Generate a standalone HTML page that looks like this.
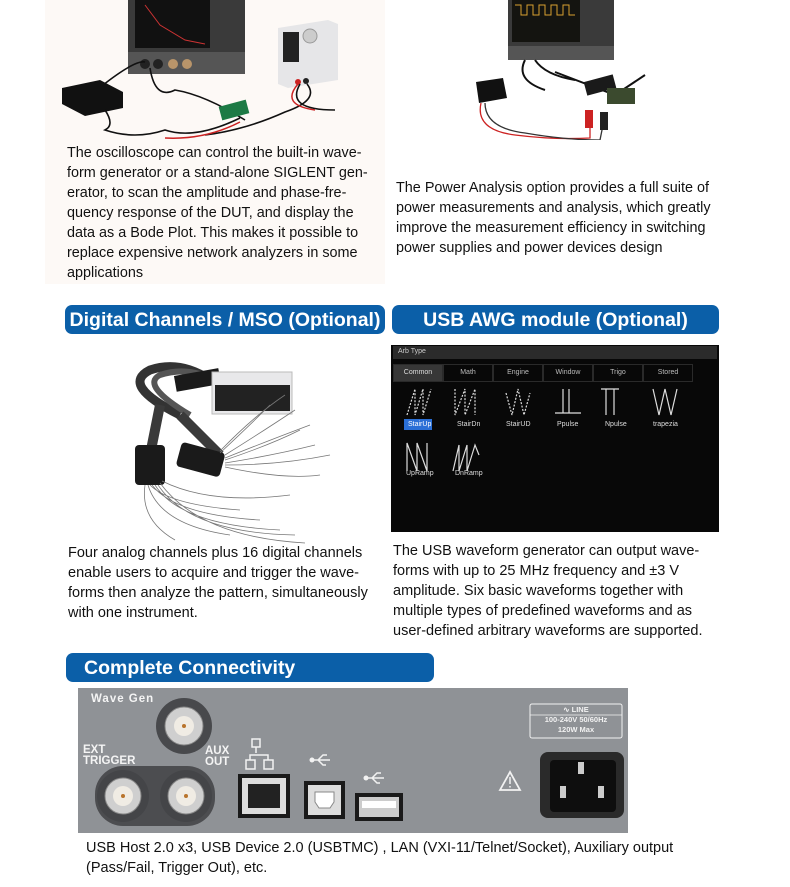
<!DOCTYPE html>
<html><head><meta charset="utf-8"><style>
*{margin:0;padding:0;box-sizing:border-box}
body{width:790px;height:887px;background:#fff;position:relative;overflow:hidden;font-family:"Liberation Sans",Arial,sans-serif;color:#111}
.a{position:absolute}
.l{position:absolute;white-space:nowrap;font-size:14.5px;line-height:20px}
.c{transform:scaleX(.96);transform-origin:0 0;font-size:15px}
.h{position:absolute;background:#0b5fa8;color:#fff;font-weight:bold;border-radius:7px;white-space:nowrap;font-size:19.5px;line-height:30px}
.tab{position:absolute;top:364px;height:18px;border:1px solid #2a2a2a;color:#bbb;font-size:7px;line-height:16px;text-align:center}
.lbl{position:absolute;font-size:7px;color:#ddd}
.pl{position:absolute;color:#f4f4f4;font-weight:bold;font-size:11.5px;line-height:11px}
</style></head><body>

<div class="a" style="left:45px;top:0;width:340px;height:284px;background:#fdf9f6"></div>
<svg class="a" style="left:45px;top:0" width="700" height="140">
 <rect x="83" y="0" width="117" height="74" fill="#3a3a3a"/>
 <rect x="90" y="0" width="75" height="48" fill="#111"/>
 <polyline points="100,5 115,25 140,40 160,44" stroke="#c33" fill="none"/>
 <rect x="83" y="52" width="117" height="22" fill="#555"/>
 <circle cx="100" cy="64" r="5" fill="#222"/><circle cx="113" cy="64" r="5" fill="#222"/>
 <circle cx="128" cy="64" r="5" fill="#b9956a"/><circle cx="142" cy="64" r="5" fill="#b9956a"/>
 <path d="M233 28 L283 20 L293 24 L293 80 L243 88 L233 84Z" fill="#e6e6e8"/>
 <rect x="238" y="32" width="16" height="30" fill="#222"/>
 <circle cx="265" cy="36" r="7" fill="#ccc" stroke="#999"/>
 <circle cx="253" cy="82" r="3" fill="#c22"/><circle cx="261" cy="81" r="3" fill="#222"/>
 <path d="M17 88 L55 80 L78 92 L78 108 L40 116 L17 104Z" fill="#111"/>
 <path d="M58 85 Q90 60 100 62 M105 68 Q110 100 130 90 Q160 95 200 120 M60 110 Q70 125 60 130 Q90 140 120 130 Q150 140 195 118 M255 84 Q240 110 290 110 M262 84 Q275 100 240 112 Q200 130 160 135" stroke="#111" stroke-width="1.6" fill="none"/>
 <path d="M253 84 Q235 105 270 110 M195 122 Q160 140 120 138" stroke="#c22" stroke-width="1.5" fill="none"/>
 <rect x="175" y="103" width="28" height="14" fill="#1d7a45" transform="rotate(-15 189 110)"/>
 <rect x="463" y="0" width="106" height="60" fill="#3a3a3a"/>
 <rect x="467" y="0" width="68" height="42" fill="#141410"/>
 <path d="M470 5 h6 v10 h6 v-10 h6 v10 h6 v-10 h6 v10 h6 v-10 h6 v10 h6 v-10 h6 v10 h6" stroke="#d8a030" fill="none"/>
 <rect x="463" y="46" width="106" height="14" fill="#555"/>
 <path d="M431 82 L458 78 L462 98 L434 103Z" fill="#111"/>
 <path d="M480 60 Q470 80 500 90 M490 60 Q500 75 530 80 M510 72 L570 95 L600 75" stroke="#111" stroke-width="2" fill="none"/>
 <rect x="540" y="78" width="30" height="14" fill="#1a1a1a" transform="rotate(-15 555 85)"/>
 <rect x="562" y="88" width="28" height="16" fill="#3b4a2e"/>
 <path d="M436 103 Q430 130 470 135 Q510 140 545 138 L545 115" stroke="#c22" stroke-width="1.3" fill="none"/>
 <path d="M440 103 Q440 128 480 133 Q520 140 555 140 L560 115" stroke="#333" stroke-width="1.3" fill="none"/>
 <rect x="540" y="110" width="8" height="18" fill="#c22"/><rect x="555" y="112" width="8" height="18" fill="#222"/>
</svg>

<div class="l c" style="left:67px;top:143px">The oscilloscope can control the built-in wave-</div>
<div class="l c" style="left:67px;top:163px">form generator or a stand-alone SIGLENT gen-</div>
<div class="l c" style="left:67px;top:183px">erator, to scan the amplitude and phase-fre-</div>
<div class="l c" style="left:67px;top:203px">quency response of the DUT, and display the</div>
<div class="l c" style="left:67px;top:223px">data as a Bode Plot. This makes it possible to</div>
<div class="l c" style="left:67px;top:243px">replace expensive network analyzers in some</div>
<div class="l c" style="left:67px;top:263px">applications</div>

<div class="l c" style="left:396px;top:178px">The Power Analysis option provides a full suite of</div>
<div class="l c" style="left:396px;top:198px">power measurements and analysis, which greatly</div>
<div class="l c" style="left:396px;top:218px">improve the measurement efficiency in switching</div>
<div class="l c" style="left:396px;top:238px">power supplies and power devices design</div>

<div class="h" style="left:65px;top:305px;width:320px;height:29px;text-align:center">Digital Channels / MSO (Optional)</div>
<div class="h" style="left:392px;top:305px;width:327px;height:29px;text-align:center">USB AWG module (Optional)</div>

<svg class="a" style="left:100px;top:355px" width="240" height="190">
 <path d="M80 60 Q20 30 50 15 Q80 5 110 25" stroke="#333" stroke-width="9" fill="none"/>
 <path d="M90 60 Q40 30 60 20 Q90 10 120 28" stroke="#555" stroke-width="6" fill="none"/>
 <rect x="75" y="17" width="45" height="16" fill="#1a1a1a" transform="rotate(-10 97 25)"/>
 <path d="M80 60 L120 100 M60 50 L50 100" stroke="#3a3a3a" stroke-width="10" fill="none"/>
 <rect x="35" y="90" width="30" height="40" rx="4" fill="#1a1a1a"/>
 <rect x="78" y="92" width="45" height="25" rx="4" fill="#1a1a1a" transform="rotate(15 100 105)"/>
 <rect x="112" y="17" width="80" height="42" fill="#e8e8ea" stroke="#bbb"/>
 <rect x="115" y="30" width="75" height="26" fill="#222"/>
 <g stroke="#777" stroke-width=".8" fill="none">
 <path d="M50 130 Q70 150 140 155 M52 130 Q75 160 160 165 M55 130 Q80 170 180 175 M58 130 Q90 178 195 180 M60 128 Q100 182 205 188 M45 130 Q40 165 75 185 M48 130 Q60 170 130 180 M62 126 Q110 150 190 140"/>
 <path d="M125 105 Q170 90 200 75 M125 108 Q175 100 215 90 M125 100 Q165 75 195 55 M125 103 Q170 85 210 70 M125 110 Q180 110 230 100 M125 112 Q185 125 220 120 M120 98 Q150 70 170 50 M120 96 Q155 60 185 40"/>
 </g>
</svg>

<div class="l" style="left:68px;top:543px">Four analog channels plus 16 digital channels</div>
<div class="l" style="left:68px;top:563px">enable users to acquire and trigger the wave-</div>
<div class="l" style="left:68px;top:583px">forms then analyze the pattern, simultaneously</div>
<div class="l" style="left:68px;top:603px">with one instrument.</div>

<div class="a" style="left:391px;top:345px;width:328px;height:187px;background:#080808"></div>
<div class="a" style="left:393px;top:346px;width:324px;height:13px;background:#2b2b2b"></div>
<div class="lbl" style="left:398px;top:348px;color:#ccc">Arb Type</div>
<div class="tab" style="left:393px;width:50px;background:#373737;color:#ddd">Common</div>
<div class="tab" style="left:443px;width:50px">Math</div>
<div class="tab" style="left:493px;width:50px">Engine</div>
<div class="tab" style="left:543px;width:50px">Window</div>
<div class="tab" style="left:593px;width:50px">Trigo</div>
<div class="tab" style="left:643px;width:50px">Stored</div>
<svg class="a" style="left:391px;top:385px" width="328" height="100" stroke="#ddd" fill="none" stroke-width="1.2">
 <path d="M16 30 L24 4 L24 30 L32 4 L32 30 L40 4" stroke-dasharray="2 1.5"/>
 <path d="M64 4 L64 30 L74 4 L74 30 L84 4 L84 30" stroke-dasharray="2 1.5"/>
 <path d="M115 8 L121 30 L127 4 L133 30 L139 8" stroke-dasharray="2 1.5"/>
 <path d="M164 28 L172 28 L172 4 M178 4 L178 28 L190 28 M172 28 L178 28"/>
 <path d="M210 4 L228 4 M215 4 L215 30 M223 4 L223 30"/>
 <path d="M262 4 L268 30 L274 4 L280 30 L286 4"/>
 <path d="M16 98 L16 70 L26 98 L26 70 L36 98 L36 70" transform="translate(0,-12)"/>
 <path d="M62 86 L68 60 L68 86 L76 60 L76 86 L84 60 L88 70"/>
</svg>
<div class="a" style="left:404px;top:419px;width:28px;height:11px;background:#2a6fd6"></div>
<div class="lbl" style="left:408px;top:421px;color:#fff">StairUp</div>
<div class="lbl" style="left:457px;top:421px">StairDn</div>
<div class="lbl" style="left:506px;top:421px">StairUD</div>
<div class="lbl" style="left:557px;top:421px">Ppulse</div>
<div class="lbl" style="left:605px;top:421px">Npulse</div>
<div class="lbl" style="left:653px;top:421px">trapezia</div>
<div class="lbl" style="left:406px;top:470px">UpRamp</div>
<div class="lbl" style="left:455px;top:470px">DnRamp</div>

<div class="l" style="left:393px;top:541px">The USB waveform generator can output wave-</div>
<div class="l" style="left:393px;top:561px">forms with up to 25 MHz frequency and ±3 V</div>
<div class="l" style="left:393px;top:581px">amplitude. Six basic waveforms together with</div>
<div class="l" style="left:393px;top:601px">multiple types of predefined waveforms and as</div>
<div class="l" style="left:393px;top:621px">user-defined arbitrary waveforms are supported.</div>

<div class="h" style="left:66px;top:653px;width:368px;height:29px;padding-left:18px">Complete Connectivity</div>

<div class="a" style="left:78px;top:688px;width:550px;height:145px;background:#8f9296"></div>
<svg class="a" style="left:78px;top:688px" width="550" height="145">
 <rect x="17" y="78" width="120" height="60" rx="28" fill="#4c4d50"/>
 <circle cx="106" cy="38" r="28" fill="#48494c"/>
 <circle cx="106" cy="38" r="19" fill="#cfcfcf" stroke="#888"/><circle cx="106" cy="38" r="10" fill="#f0ece4"/><circle cx="106" cy="38" r="2" fill="#b8742c"/>
 <circle cx="45" cy="108" r="26" fill="#444548"/><circle cx="45" cy="108" r="18" fill="#cfcfcf" stroke="#888"/><circle cx="45" cy="108" r="10" fill="#f0ece4"/><circle cx="45" cy="108" r="2" fill="#b8742c"/>
 <circle cx="108" cy="108" r="26" fill="#444548"/><circle cx="108" cy="108" r="18" fill="#cfcfcf" stroke="#888"/><circle cx="108" cy="108" r="10" fill="#f0ece4"/><circle cx="108" cy="108" r="2" fill="#b8742c"/>
 <g stroke="#f2f2f2" stroke-width="1.5" fill="none">
  <rect x="174" y="51" width="8" height="8"/><rect x="168" y="72" width="9" height="9"/><rect x="186" y="72" width="9" height="9"/>
  <path d="M178 59 v6 M172 72 v-5 h18 v5"/>
  <path d="M236 72 h16 M240 72 l5 -5 h4 M240 72 l5 5 h3" /><path d="M290 90 h16 M294 90 l5 -5 h4 M294 90 l5 5 h3"/>
  <path d="M422 102 L432 84 L442 102Z" stroke-width="1.8"/><path d="M432 89 v7 M432 98 v1.5"/>
  <rect x="452" y="16" width="92" height="34" rx="2" stroke-width="1"/><path d="M452 27 h92" stroke-width=".8"/>
 </g>
 <circle cx="234" cy="72" r="2.5" fill="#f2f2f2"/><circle cx="288" cy="90" r="2.5" fill="#f2f2f2"/>
 <rect x="160" y="86" width="52" height="44" fill="#1a1a1a"/><rect x="164" y="90" width="44" height="36" fill="#ddd"/><rect x="170" y="96" width="32" height="24" fill="#222"/>
 <rect x="226" y="93" width="41" height="38" fill="#1a1a1a"/><rect x="230" y="97" width="33" height="30" fill="#ddd"/><path d="M237 104 h19 v10 l-4 6 h-11 l-4 -6Z" fill="#fff" stroke="#888"/>
 <rect x="277" y="105" width="48" height="28" fill="#1a1a1a"/><rect x="281" y="109" width="40" height="20" fill="#ccc"/><rect x="284" y="113" width="34" height="7" fill="#fff"/>
 <rect x="462" y="64" width="84" height="66" rx="8" fill="#2a2a2a"/><rect x="472" y="72" width="66" height="52" rx="4" fill="#0e0e0e"/>
 <rect x="500" y="74" width="6" height="12" fill="#ccc"/><rect x="482" y="98" width="6" height="12" fill="#ccc"/><rect x="520" y="98" width="6" height="12" fill="#ccc"/>
</svg>
<div class="pl" style="left:91px;top:694px;letter-spacing:1px">Wave Gen</div>
<div class="pl" style="left:83px;top:745px">EXT<br>TRIGGER</div>
<div class="pl" style="left:205px;top:746px">AUX<br>OUT</div>
<div class="a" style="left:530px;top:705px;width:92px;color:#f2f2f2;font-weight:bold;font-size:7.5px;text-align:center;line-height:10px">∿ LINE<br>100-240V 50/60Hz<br>120W Max</div>

<div class="l" style="left:86px;top:838px">USB Host 2.0 x3, USB Device 2.0 (USBTMC) , LAN (VXI-11/Telnet/Socket), Auxiliary output</div>
<div class="l" style="left:86px;top:858px">(Pass/Fail, Trigger Out), etc.</div>
</body></html>
